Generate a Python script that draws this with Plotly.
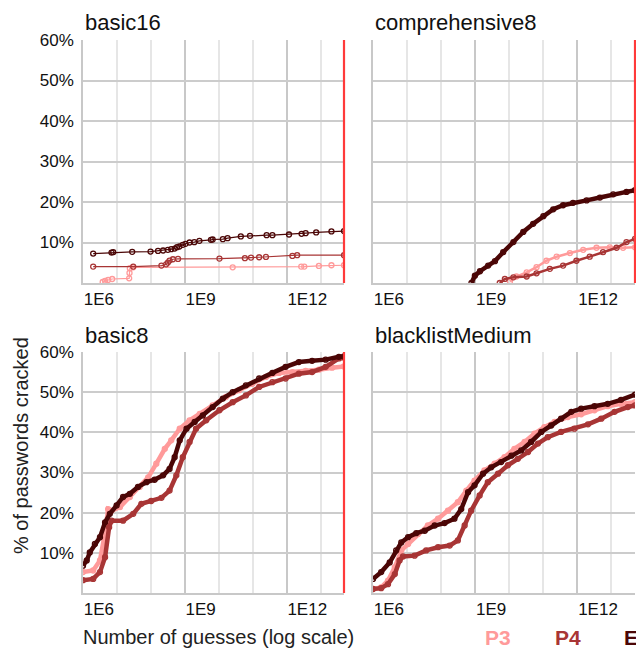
import plotly.graph_objects as go

# ---------------- data (x = log10 of number of guesses, y = % cracked) ----------------
series_names = ["P3", "P4", "E"]
series_colors = {"P3": "#ff9a9a", "P4": "#a83535", "E": "#4b0606"}
panel_titles = ["basic16", "comprehensive8", "basic8", "blacklistMedium"]
x_tick_values = [1e6, 1e9, 1e12]
x_tick_labels = ["1E6", "1E9", "1E12"]
y_tick_values = [10, 20, 30, 40, 50, 60]
y_tick_labels = ["10%", "20%", "30%", "40%", "50%", "60%"]

# basic16
basic16_P3_log10 = [6.58, 6.65, 6.74, 6.86, 7.36, 7.37, 7.38, 7.48, 10.41, 12.43, 12.52, 12.95, 13.32, 13.69]
basic16_P3_pct = [0.25, 0.50, 0.74, 0.99, 1.16, 2.5, 3.64, 3.88, 3.88, 4.05, 4.05, 4.21, 4.38, 4.38]
basic16_P4_log10 = [6.30, 7.48, 8.31, 8.45, 8.50, 8.55, 8.65, 8.80, 10.02, 10.77, 10.95, 11.19, 11.39, 12.17, 12.31, 13.69]
basic16_P4_pct = [4.05, 4.05, 4.30, 4.6, 5.04, 5.54, 5.87, 5.95, 6.03, 6.12, 6.28, 6.36, 6.45, 6.69, 6.86, 6.86]
basic16_E_log10 = [6.30, 6.84, 6.89, 7.45, 7.99, 8.21, 8.36, 8.50, 8.60, 8.70, 8.77, 8.84, 8.94, 9.02,
                   9.14, 9.28, 9.43, 9.77, 9.82, 10.12, 10.26, 10.65, 10.92, 11.41, 11.58, 12.07, 12.44,
                   12.56, 12.87, 13.32, 13.69]
basic16_E_pct = [7.27, 7.52, 7.60, 7.69, 7.77, 7.93, 8.02, 8.18, 8.35, 8.51, 8.84, 9.01, 9.42, 9.67,
                 10.0, 10.08, 10.41, 10.66, 10.74, 10.83, 11.07, 11.49, 11.65, 11.82, 11.82, 11.98, 12.15,
                 12.31, 12.48, 12.73, 12.81]

# comprehensive8
comprehensive8_P3_log10 = [10.02, 10.21, 10.51, 10.80, 11.09, 11.39, 11.78, 12.17, 12.56, 12.95, 13.34, 13.69]
comprehensive8_P3_pct = [0.4, 1.6, 2.6, 3.9, 5.5, 6.5, 7.4, 8.2, 8.7, 8.8, 8.7, 8.8]
comprehensive8_P4_log10 = [9.72, 9.87, 10.12, 10.51, 10.80, 11.19, 11.58, 11.97, 12.36, 12.75, 13.15, 13.44, 13.69]
comprehensive8_P4_pct = [0.0, 1.0, 1.4, 1.6, 2.4, 3.5, 4.3, 5.5, 6.5, 7.6, 8.7, 10.1, 10.9]
comprehensive8_E_log10 = [8.89, 8.99, 9.14, 9.38, 9.58, 9.82, 10.12, 10.41, 10.70, 11.00, 11.29, 11.58,
                          11.87, 12.27, 12.66, 13.05, 13.44, 13.69]
comprehensive8_E_pct = [0.0, 1.8, 2.9, 4.3, 5.4, 7.6, 10.1, 12.6, 14.6, 16.5, 18.2, 19.2,
                        19.8, 20.4, 21.1, 21.9, 22.5, 22.9]

# basic8
basic8_P3_log10 = [6.00, 6.30, 6.50, 6.65, 6.74, 6.84, 7.09, 7.38, 7.67, 7.92, 8.16, 8.41, 8.60, 8.85,
                   9.14, 9.44, 9.82, 10.21, 10.60, 10.99, 11.39, 11.78, 12.17, 12.56, 12.95, 13.34, 13.69]
basic8_P3_pct = [5.2, 5.6, 8.1, 15.1, 20.9, 20.5, 21.4, 23.9, 26.4, 28.8, 32.2, 35.9, 38.0, 40.9,
                 43.0, 44.6, 46.7, 48.8, 50.5, 52.1, 53.8, 54.8, 55.0, 55.3, 55.6, 56.1, 56.4]
basic8_P4_log10 = [6.00, 6.30, 6.50, 6.65, 6.77, 6.84, 7.18, 7.48, 7.72, 8.01, 8.31, 8.55, 8.75, 8.94,
                   9.14, 9.33, 9.63, 10.02, 10.41, 10.80, 11.19, 11.58, 11.97, 12.36, 12.75, 13.15, 13.54, 13.69]
basic8_P4_pct = [3.2, 3.5, 5.2, 8.9, 16.4, 18.0, 18.0, 19.7, 22.2, 22.9, 23.7, 25.5, 29.3, 33.8,
                 37.6, 40.9, 43.0, 45.5, 47.5, 49.2, 51.3, 52.5, 53.4, 54.6, 55.0, 56.3, 58.4, 58.6]
basic8_E_log10 = [6.00, 6.11, 6.20, 6.35, 6.50, 6.65, 6.79, 6.99, 7.18, 7.38, 7.62, 7.87, 8.11, 8.36,
                  8.55, 8.70, 8.85, 9.05, 9.29, 9.53, 9.82, 10.12, 10.41, 10.80, 11.19, 11.58, 11.97,
                  12.36, 12.75, 13.15, 13.54, 13.69]
basic8_E_pct = [6.8, 8.1, 10.1, 12.2, 13.9, 17.6, 19.7, 21.8, 23.9, 24.7, 26.4, 27.6, 28.2, 29.3,
                30.9, 33.8, 38.0, 40.9, 42.6, 44.2, 46.3, 48.4, 50.0, 51.7, 53.4, 54.8, 56.3,
                57.5, 57.8, 58.1, 58.8, 58.9]

# blacklistMedium
blacklistMedium_P3_log10 = [6.00, 6.24, 6.44, 6.64, 6.83, 7.03, 7.32, 7.61, 7.91, 8.20, 8.49, 8.74, 8.98,
                            9.27, 9.57, 9.86, 10.15, 10.45, 10.74, 11.03, 11.33, 11.72, 12.11, 12.50,
                            12.89, 13.28, 13.69]
blacklistMedium_P3_pct = [1.0, 1.4, 3.1, 6.4, 10.6, 12.2, 14.7, 16.8, 18.5, 20.5, 22.6, 25.5, 28.0,
                          30.5, 32.2, 33.8, 35.9, 37.6, 39.7, 41.3, 42.6, 43.8, 44.5, 45.5,
                          46.5, 47.1, 47.5]
blacklistMedium_P4_log10 = [6.00, 6.24, 6.44, 6.64, 6.78, 6.88, 7.22, 7.56, 7.91, 8.25, 8.49, 8.69, 8.88,
                            9.13, 9.37, 9.67, 9.96, 10.25, 10.55, 10.84, 11.13, 11.52, 11.91, 12.31,
                            12.70, 13.09, 13.48, 13.69]
blacklistMedium_P4_pct = [1.0, 1.2, 2.2, 4.7, 8.1, 9.1, 9.3, 10.6, 11.4, 11.8, 13.1, 16.8, 20.5,
                          24.3, 27.6, 29.7, 31.8, 33.4, 35.1, 37.2, 38.8, 40.1, 40.9, 42.0,
                          43.4, 45.1, 46.3, 46.7]
blacklistMedium_E_log10 = [6.00, 6.24, 6.49, 6.68, 6.83, 7.03, 7.27, 7.52, 7.81, 8.10, 8.39, 8.59, 8.79,
                           8.98, 9.23, 9.47, 9.76, 10.06, 10.35, 10.64, 10.94, 11.23, 11.52, 11.82,
                           12.11, 12.50, 12.89, 13.28, 13.69]
blacklistMedium_E_pct = [3.5, 5.2, 7.6, 10.6, 12.6, 13.9, 14.9, 15.5, 16.8, 17.4, 18.5, 20.9, 25.1,
                         26.8, 29.7, 31.3, 32.6, 34.2, 35.5, 37.6, 40.1, 41.7, 43.4, 45.1,
                         45.9, 46.5, 47.1, 48.1, 49.4]

panels = [
    {"P3": (basic16_P3_log10, basic16_P3_pct), "P4": (basic16_P4_log10, basic16_P4_pct),
     "E": (basic16_E_log10, basic16_E_pct)},
    {"P3": (comprehensive8_P3_log10, comprehensive8_P3_pct), "P4": (comprehensive8_P4_log10, comprehensive8_P4_pct),
     "E": (comprehensive8_E_log10, comprehensive8_E_pct)},
    {"P3": (basic8_P3_log10, basic8_P3_pct), "P4": (basic8_P4_log10, basic8_P4_pct),
     "E": (basic8_E_log10, basic8_E_pct)},
    {"P3": (blacklistMedium_P3_log10, blacklistMedium_P3_pct), "P4": (blacklistMedium_P4_log10, blacklistMedium_P4_pct),
     "E": (blacklistMedium_E_log10, blacklistMedium_E_pct)},
]

# ---------------- layout geometry (pixels in a 636 x 649 canvas) ----------------
W, H = 636, 649
col_px = [(83, 344), (373, 635)]
row_px = [(40, 283), (352, 593)]
line_widths = [
    {"P3": 1.2, "P4": 1.2, "E": 1.2},
    {"P3": 2.5, "P4": 2.5, "E": 4.5},
    {"P3": 4.5, "P4": 4.5, "E": 4.5},
    {"P3": 4.5, "P4": 4.5, "E": 4.5},
]
FONT = "Liberation Sans, Arial, Helvetica, sans-serif"

fig = go.Figure()
layout = dict(
    width=W, height=H, margin=dict(l=0, r=0, t=0, b=0, autoexpand=False),
    paper_bgcolor="white", plot_bgcolor="white", showlegend=False,
    font=dict(family=FONT, color="#111111"),
)
annotations = []
shapes = []

for i, panel in enumerate(panels):
    r, c = divmod(i, 2)
    sfx = "" if i == 0 else str(i + 1)
    xd = [col_px[c][0] / W, col_px[c][1] / W]
    yd = [1 - row_px[r][1] / H, 1 - row_px[r][0] / H]
    layout["xaxis" + sfx] = dict(
        domain=xd, anchor="y" + sfx, type="log", range=[6, 13.69],
        tickvals=x_tick_values, ticktext=x_tick_labels,
        tickfont=dict(size=17, color="#111111"), ticklabelposition="outside right",
        showgrid=True, gridcolor="#c8c8c8", gridwidth=1.5,
        minor=dict(tickvals=[1e7, 1e8, 1e10, 1e11, 1e13], showgrid=True,
                   gridcolor="#e6e6e6", gridwidth=1.5),
        showline=True, linecolor="#c8c8c8", linewidth=1.5, zeroline=False, ticks="",
        automargin=False,
    )
    layout["yaxis" + sfx] = dict(
        domain=yd, anchor="x" + sfx, range=[0, 60],
        tickvals=y_tick_values, ticktext=y_tick_labels,
        tickfont=dict(size=17, color="#111111"), showticklabels=(c == 0),
        ticklabelstandoff=4,
        showgrid=True, gridcolor="#cccccc", gridwidth=1.5,
        showline=True, linecolor="#c8c8c8", linewidth=1.5, zeroline=False, ticks="",
        automargin=False,
    )
    for name in series_names:
        xs, ys = panel[name]
        fig.add_trace(go.Scatter(
            x=[10 ** v for v in xs], y=ys, mode="lines+markers",
            xaxis="x" + sfx, yaxis="y" + sfx, name=name,
            line=dict(color=series_colors[name], width=line_widths[i][name]),
            marker=dict(symbol="circle-open", size=5, color=series_colors[name],
                        line=dict(width=1.3, color=series_colors[name])),
            cliponaxis=True,
        ))
    annotations.append(dict(
        text=panel_titles[i], xref="paper", yref="paper",
        x=col_px[c][0] / W, y=1 - (row_px[r][0] - 17) / H,
        xanchor="left", yanchor="middle", showarrow=False,
        font=dict(size=22, family=FONT, color="#111111"),
    ))
    if i != 3:
        shapes.append(dict(
            type="line", xref="x" + sfx + " domain", yref="y" + sfx + " domain",
            x0=1, x1=1, y0=0, y1=1, line=dict(color="#ff3a3a", width=2.2), layer="above",
        ))

annotations.append(dict(
    text="% of passwords cracked", xref="paper", yref="paper",
    x=21 / W, y=1 - 446 / H, xanchor="center", yanchor="middle", textangle=-90,
    showarrow=False, font=dict(size=20, family=FONT, color="#222222"),
))
annotations.append(dict(
    text="Number of guesses (log scale)", xref="paper", yref="paper",
    x=81 / W, y=1 - 637 / H, xanchor="left", yanchor="middle",
    showarrow=False, font=dict(size=20, family=FONT, color="#222222"),
))
legend_x_px = {"P3": 483, "P4": 553, "E": 622}
for name in series_names:
    annotations.append(dict(
        text="<b>" + name + "</b>", xref="paper", yref="paper",
        x=legend_x_px[name] / W, y=1 - 637 / H, xanchor="left", yanchor="middle",
        showarrow=False, font=dict(size=21, family=FONT, color=series_colors[name]),
    ))

layout["annotations"] = annotations
layout["shapes"] = shapes
fig.update_layout(**layout)
fig.write_html(
    "out.html",
    config={"displayModeBar": False},
    post_script="document.body.style.margin='0px';document.body.style.overflow='hidden';",
)
